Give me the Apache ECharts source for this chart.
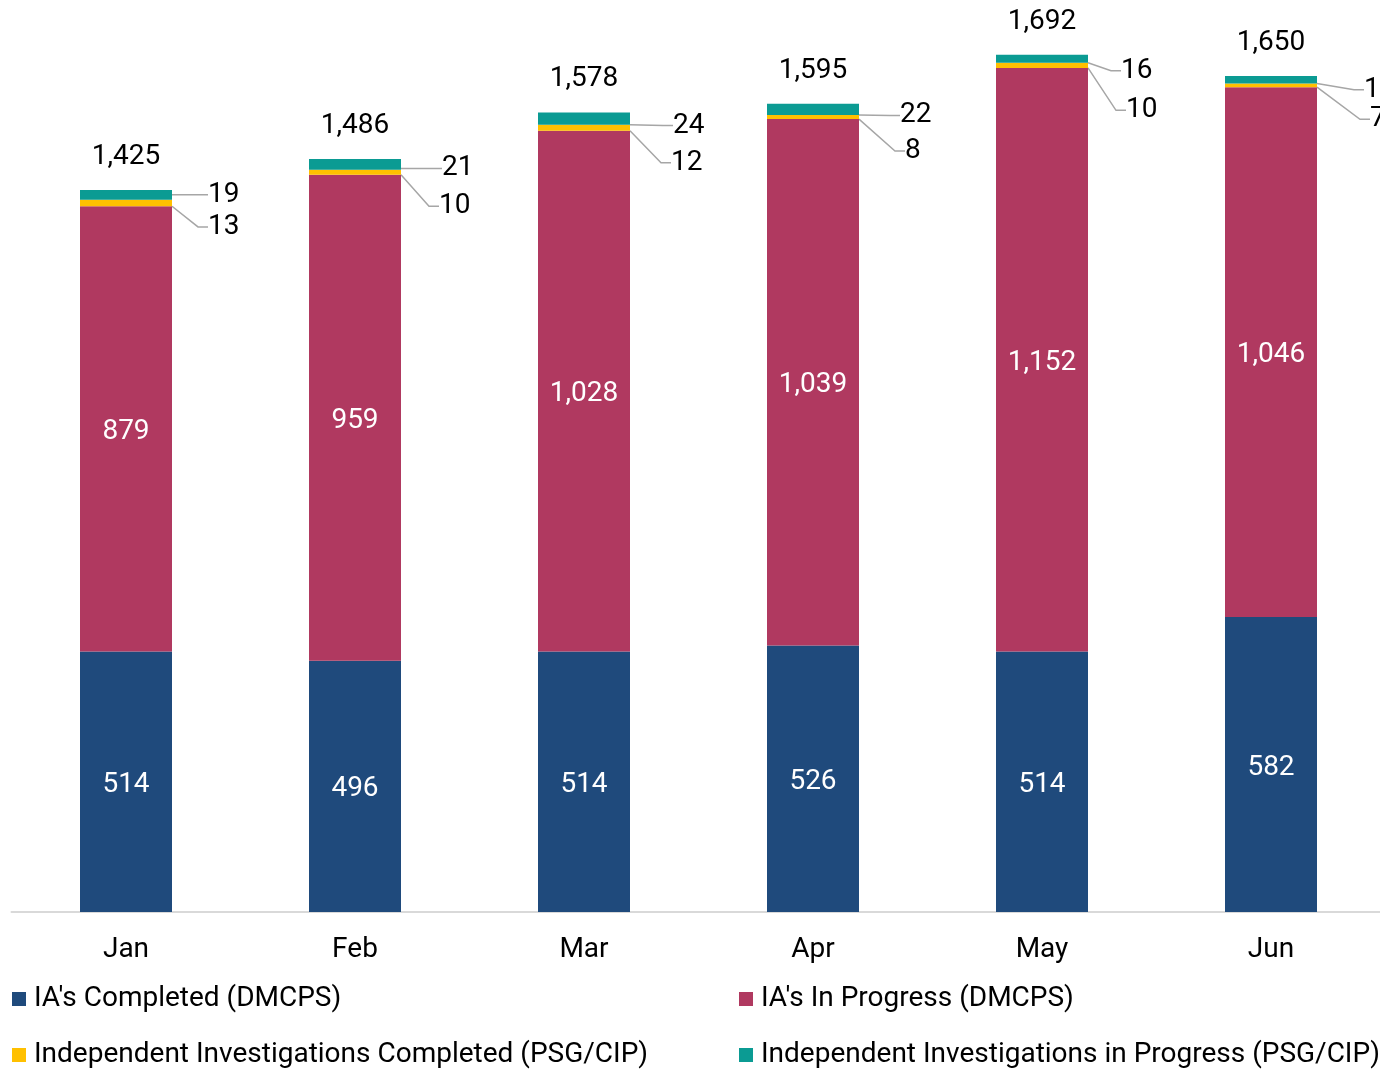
<!DOCTYPE html>
<html>
<head>
<meta charset="utf-8">
<script src="https://cdn.jsdelivr.net/npm/echarts@6/dist/echarts.min.js"></script>
<style>
  html, body { margin: 0; padding: 0; background: #fff; }
  #main { width: 1380px; height: 1069px; }
</style>
</head>
<body>
<div id="main"></div>
<script>
  // chart data
  var months = ['Jan', 'Feb', 'Mar', 'Apr', 'May', 'Jun'];
  var iaCompleted = [514, 496, 514, 526, 514, 582];
  var iaInProgress = [879, 959, 1028, 1039, 1152, 1046];
  var invCompleted = [13, 10, 12, 8, 10, 7];
  var invInProgress = [19, 21, 24, 22, 16, 15];
  var totals = [1425, 1486, 1578, 1595, 1692, 1650];

  // where the small callout labels sit, relative to their default spot
  var tealShift = [[23, 0], [28, 4], [30, 7], [28, 6], [20, 12], [34, 10]];
  var yellowShift = [[23, 24], [25, 34], [28, 35], [33, 34], [25, 45], [40, 34]];

  var font = 'Roboto, "Noto Sans", sans-serif';
  var names = [
    "IA's Completed (DMCPS)",
    "IA's In Progress (DMCPS)",
    'Independent Investigations Completed (PSG/CIP)',
    'Independent Investigations in Progress (PSG/CIP)'
  ];

  var chart = echarts.init(document.getElementById('main'));

  var insideLabel = {
    show: true,
    position: 'inside',
    offset: [0, 3],
    color: '#fff',
    fontSize: 28,
    fontFamily: font,
    formatter: function (p) { return p.value.toLocaleString('en-US'); }
  };
  var sideLabel = {
    show: true,
    position: 'right',
    color: '#000',
    fontSize: 28,
    fontFamily: font,
    padding: [0, 0, 0, 8]
  };
  var leader = {
    show: true,
    length2: 10,
    lineStyle: { color: '#a6a6a6', width: 1.5 }
  };
  var legendText = { fontSize: 28, color: '#000', lineHeight: 26, fontFamily: font, padding: [0, 0, 0, 3] };

  var option = {
    animation: false,
    textStyle: { fontFamily: font },
    grid: { left: 11.5, width: 1374, top: 0, bottom: 157, outerBoundsMode: 'none' },
    legend: [
      {
        data: [names[0], names[2]],
        orient: 'vertical',
        left: 12,
        top: 985,
        padding: 0,
        itemWidth: 14,
        itemHeight: 14,
        itemGap: 28,
        icon: 'rect',
        textStyle: legendText
      },
      {
        data: [names[1], names[3]],
        orient: 'vertical',
        left: 739,
        top: 985,
        padding: 0,
        itemWidth: 14,
        itemHeight: 14,
        itemGap: 28,
        icon: 'rect',
        textStyle: legendText
      }
    ],
    xAxis: {
      type: 'category',
      data: months,
      axisLine: { lineStyle: { color: '#d9d9d9', width: 2 } },
      axisTick: { show: false },
      axisLabel: { color: '#000', fontSize: 28, margin: 24, fontFamily: font }
    },
    yAxis: {
      type: 'value',
      min: 0,
      max: 1800,
      show: false,
      splitLine: { show: false }
    },
    series: [
      {
        name: names[0], type: 'bar', stack: 'all', barWidth: 92,
        itemStyle: { color: '#1f4a7c' },
        label: insideLabel,
        data: iaCompleted
      },
      {
        name: names[1], type: 'bar', stack: 'all',
        itemStyle: { color: '#b03960' },
        label: insideLabel,
        data: iaInProgress
      },
      {
        name: names[2], type: 'bar', stack: 'all',
        itemStyle: { color: '#ffc000' },
        label: sideLabel,
        labelLayout: function (p) {
          var s = yellowShift[p.dataIndex];
          return { dx: s[0], dy: s[1] };
        },
        labelLine: leader,
        data: invCompleted
      },
      {
        name: names[3], type: 'bar', stack: 'all',
        itemStyle: { color: '#0b9b93' },
        label: sideLabel,
        labelLayout: function (p) {
          var s = tealShift[p.dataIndex];
          return { dx: s[0], dy: s[1] };
        },
        labelLine: leader,
        data: invInProgress
      },
      {
        name: 'Total', type: 'bar', stack: 'all',
        itemStyle: { color: 'transparent' },
        label: {
          show: true,
          position: 'top',
          distance: 19,
          color: '#000',
          fontSize: 28,
          fontFamily: font,
          formatter: function (p) { return totals[p.dataIndex].toLocaleString('en-US'); }
        },
        data: totals.map(function () { return 0; })
      }
    ]
  };

  chart.setOption(option);
  window.addEventListener('resize', chart.resize);
</script>
</body>
</html>
